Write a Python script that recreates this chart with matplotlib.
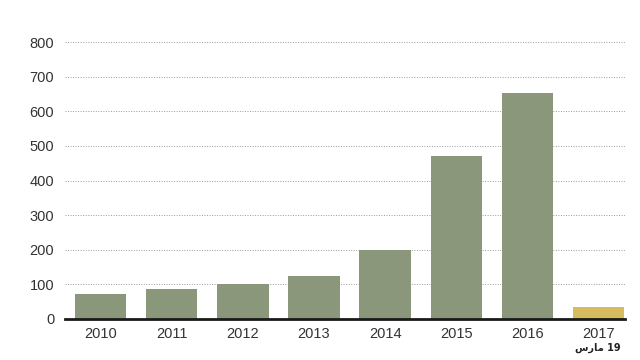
import matplotlib.pyplot as plt
import numpy as np

years = ['2010', '2011', '2012', '2013', '2014', '2015', '2016', '2017']
values = [72, 87, 101, 124, 199, 471, 653, 35]
colors = ['#8a977a'] * 7 + ['#d5bc5e']
# "19 مارس" in visual order with shaped Arabic glyphs
date_note = '\ufeb1\ufead\ufe8e\ufee3 19'

plt.rcParams['font.family'] = ['Liberation Sans', 'DejaVu Sans']

fig = plt.figure(figsize=(6.4, 3.6), dpi=100)
ax = fig.add_axes([0.102, 0.114, 0.875, 0.769])

x = np.arange(len(years))
ax.bar(x, values, width=0.72, color=colors, zorder=2)

ax.set_ylim(0, 800)
ax.set_xlim(-0.5, 7.38)
ax.set_yticks(range(0, 801, 100))
ax.set_xticks(x)
ax.set_xticklabels(years)
ax.tick_params(axis='both', length=0, labelsize=10.5, colors='#333333')
ax.tick_params(axis='x', pad=6)
ax.tick_params(axis='y', pad=8)

ax.grid(axis='y', linestyle=(0, (1, 1.6)), color='#999999', linewidth=0.7, zorder=0)
for s in ['top', 'right', 'left']:
    ax.spines[s].set_visible(False)
ax.spines['bottom'].set_color('#1a1a1a')
ax.spines['bottom'].set_linewidth(2)
ax.spines['bottom'].set_zorder(3)

ax.text(7, -0.085, date_note, transform=ax.get_xaxis_transform(),
        ha='center', va='top', fontsize=7, fontweight='bold',
        color='#222222', family='DejaVu Sans')

fig.savefig('out.png', dpi=100)
